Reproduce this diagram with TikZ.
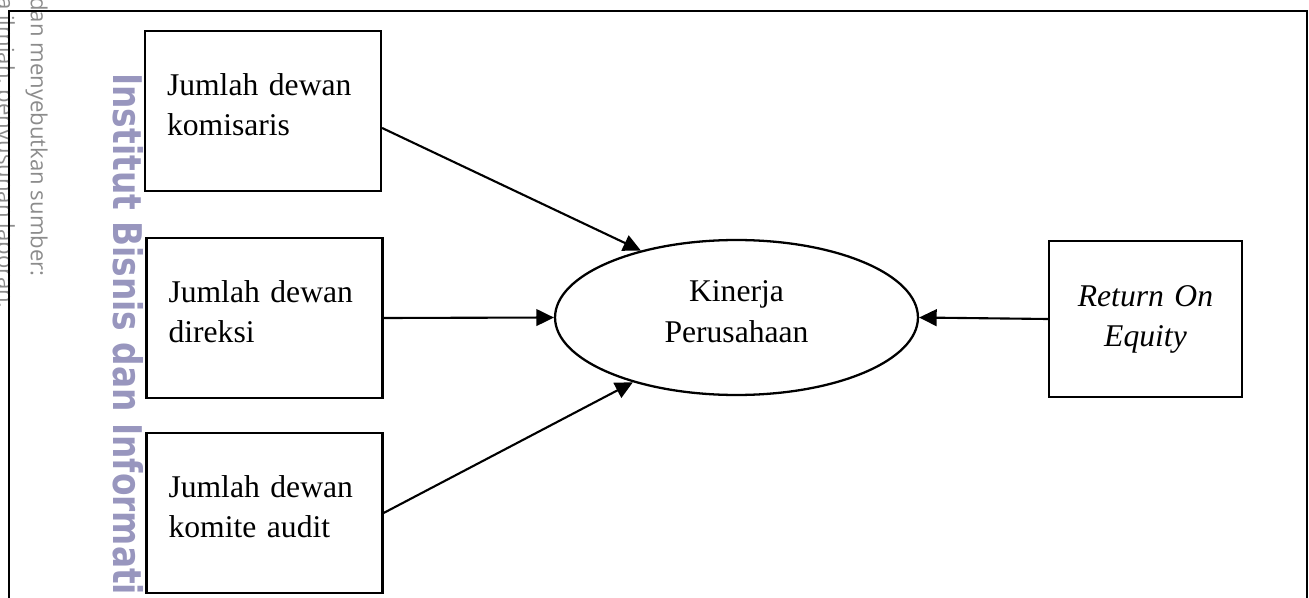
\documentclass[tikz,border=0pt]{standalone}
\usepackage{fontspec}
\setmainfont{Liberation Serif}
\newfontfamily\wmfont{DejaVu Sans}
\newfontfamily\notefont{Open Sans}
\usetikzlibrary{arrows.meta,shapes.geometric}
\definecolor{wmpurple}{RGB}{152,150,190}
\definecolor{notegray}{RGB}{140,140,140}

\begin{document}
\begin{tikzpicture}[x=0.02cm, y=-0.02cm]
			\tikzset{box/.style = {draw, rectangle, line width=1.3pt,
			inner xsep=0.44cm, inner ysep=0pt, minimum width=4.72cm,
			minimum height=3.2cm, text width=3.84cm, align=left,
			font=\fontsize{18}{22.8}\selectfont},
			varbox/.style = {box, text depth=29.8pt},
			roebox/.style = {box, minimum width=3.86cm, minimum height=3.12cm,
			inner xsep=0pt, text width=3.86cm, align=center,
			font=\fontsize{18}{22.8}\selectfont\itshape},
			goal/.style = {draw, ellipse, line width=1.3pt, inner sep=0pt,
			minimum width=7.26cm, minimum height=3.1cm, align=center,
			text depth=6.8pt, font=\fontsize{18}{22.8}\selectfont},
			link/.style = {-{Triangle[length=10pt, width=9.5pt]},
			line width=1.2pt},
			spine/.style = {rotate=-90, anchor=base west, inner sep=0pt}}
			
			\useasboundingbox (0,0) rectangle (1309,598);
			
			\begin{scope}
			\clip (0,0) rectangle (1309,598);
			\node[spine, text=wmpurple,
			font=\wmfont\bfseries\fontsize{22.5}{27}\selectfont] (wm) at (113,73)
			{\scalebox{0.83}[1]{Institut Bisnis dan Informati}};
			\node[spine, text=notegray,
			font=\notefont\fontsize{12.6}{15}\selectfont] (src) at (31,-3)
			{dan menyebutkan sumber:};
			\node[spine, text=notegray,
			font=\notefont\fontsize{12.6}{15}\selectfont] (rpt) at (-2,-3)
			{a ilmiah, penyusunan laporan,};
			\end{scope}
			
			\draw[line width=1.4pt] (9,598) -- (9,11) -- (1307,11) -- (1307,598);
			
			\node[varbox] (kom) at (263, 111) {Jumlah dewan\\komisaris};
			\node[varbox] (dir) at (264.5, 318) {Jumlah dewan\\direksi};
			\node[varbox] (aud) at (264.5, 513) {Jumlah dewan\\komite audit};
			\node[goal] (kin) at (736.5, 317.5) {Kinerja\\Perusahaan};
			\node[roebox] (roe) at (1145.5, 319) {Return On\\Equity};
			
			\draw[link] ([yshift=-0.34cm]kom.east) -- (kin.145);
			\draw[link] (dir.east) -- (kin.west);
			\draw[link] (aud.east) -- (kin.212);
			\draw[link] (roe.west) -- (kin.east);
		\end{tikzpicture}
\end{document}
